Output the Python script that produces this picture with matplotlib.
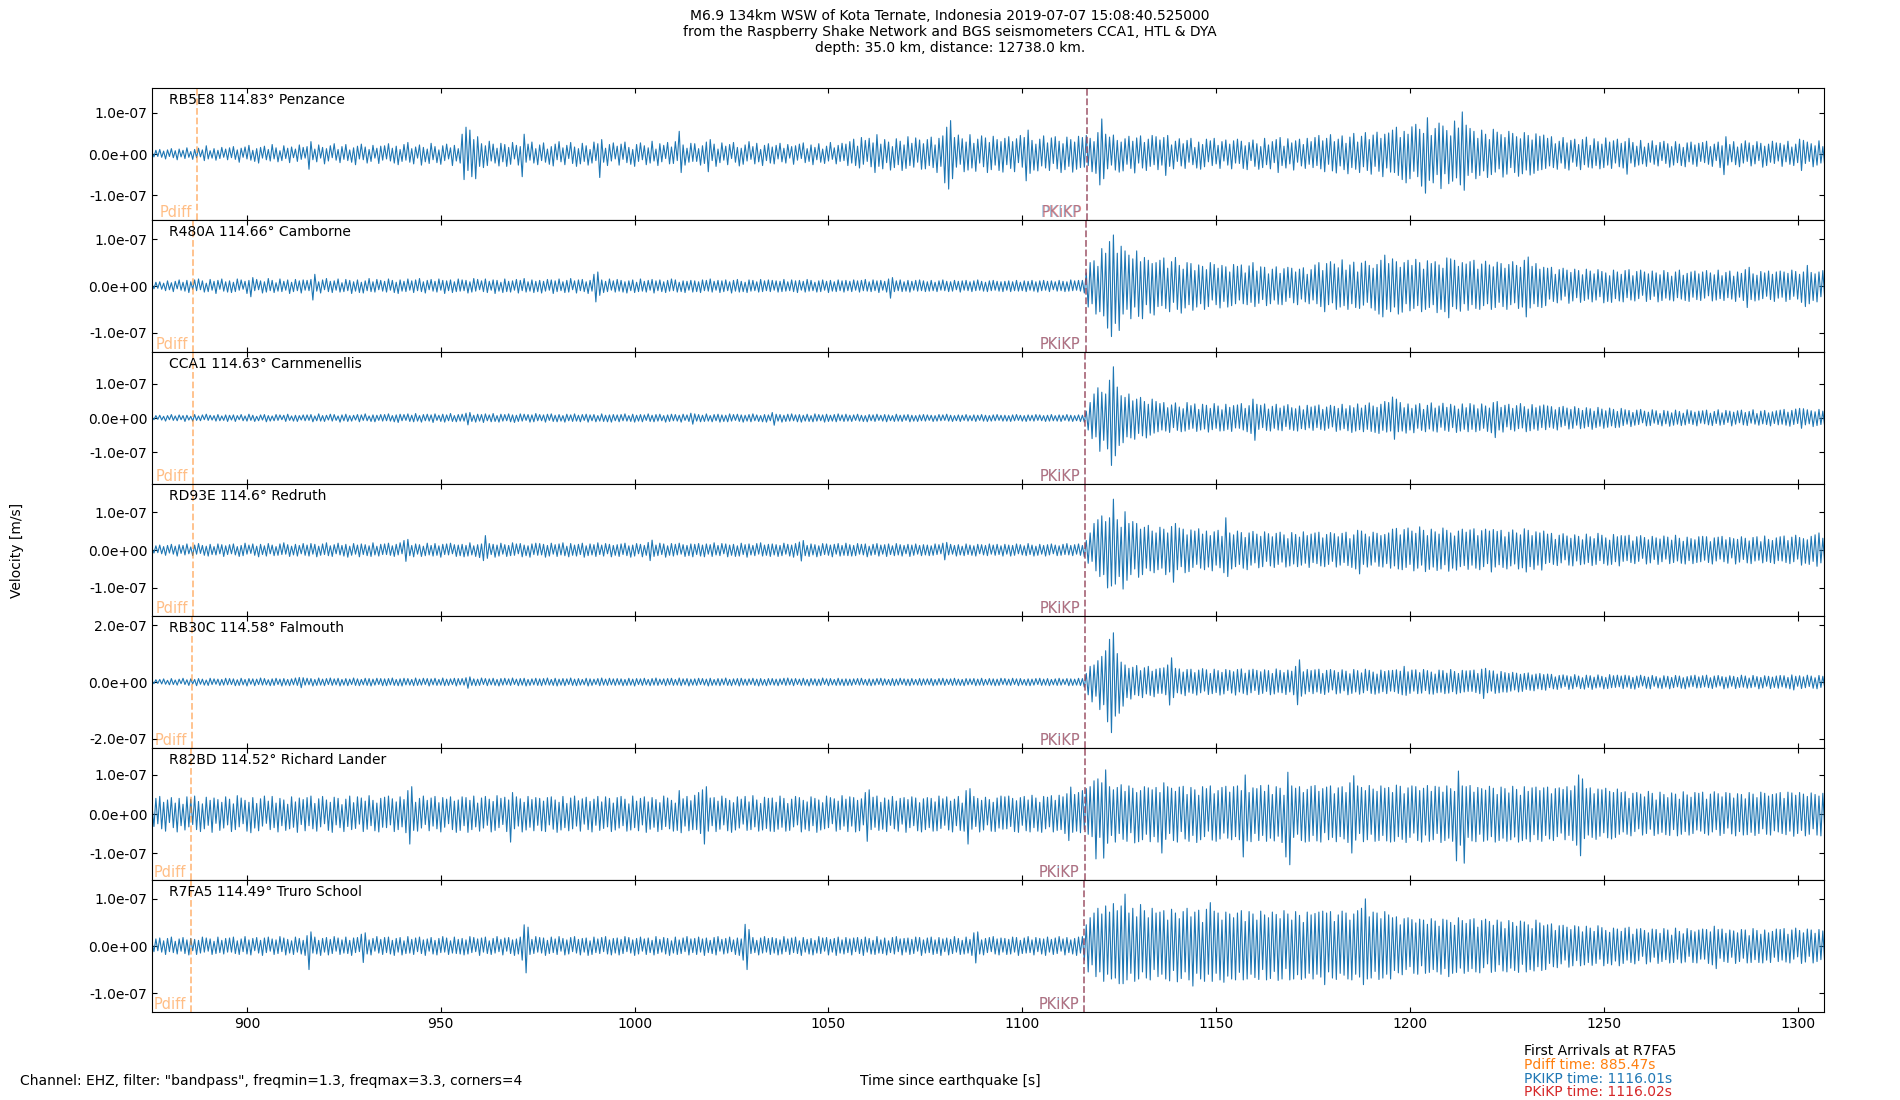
import numpy as np
import matplotlib
matplotlib.use("Agg")
import matplotlib.pyplot as plt
from matplotlib.ticker import FormatStrFormatter

# ---------------- data ----------------
# sample start time (s since origin) and spacing of the extreme-value samples
T0 = 875.5
DT = 0.5
UNIT = 1e-9  # values below are in nm/s (1e-9 m/s), alternating local extremes

X_LIMITS = [875.5, 1306.8]
X_TICKS = [900, 950, 1000, 1050, 1100, 1150, 1200, 1250, 1300]

STATION_LABELS = [
    "RB5E8 114.83° Penzance",
    "R480A 114.66° Camborne",
    "CCA1 114.63° Carnmenellis",
    "RD93E 114.6° Redruth",
    "RB30C 114.58° Falmouth",
    "R82BD 114.52° Richard Lander",
    "R7FA5 114.49° Truro School",
]
PDIFF_TIMES = [887.0, 886.2, 886.1, 886.0, 885.9, 885.6, 885.47]
PKIKP_TIMES = [1116.65, 1116.33, 1116.27, 1116.21, 1116.18, 1116.07, 1116.01]
PKiKP_TIMES = [1116.66, 1116.34, 1116.28, 1116.22, 1116.19, 1116.08, 1116.02]
Y_LIMITS = [1.60e-7, 1.41e-7, 1.92e-7, 1.74e-7, 2.32e-7, 1.69e-7, 1.40e-7]
Y_TICK_STEPS = [1e-7, 1e-7, 1e-7, 1e-7, 2e-7, 1e-7, 1e-7]

PENZANCE = [
    5,-7,9,-6,11,-8,7,-12,10,-6,13,-9,8,-14,12,-7,9,-11,15,-8,6,-13,11,-9,14,-7,10,-16,20,-12,8,-10,13,-15,9,-11,16,-8,12,-14,
    15,-9,18,-13,10,-20,14,-8,17,-12,21,-15,9,-18,13,-22,16,-10,19,-14,11,-17,23,-12,15,-19,8,-16,20,-11,14,-21,17,-9,12,-18,22,-13,16,-10,
    18,-37,30,-14,12,-19,22,-10,16,-24,13,-17,20,-9,25,-15,11,-21,18,-13,23,-16,10,-20,15,-26,19,-12,24,-14,17,-22,11,-18,21,-10,14,-23,19,-15,
    20,-12,25,-17,14,-22,19,-26,11,-18,23,-15,28,-20,13,-24,17,-10,22,-27,16,-19,12,-23,26,-14,18,-21,10,-25,20,-16,24,-12,15,-28,21,-17,13,-22,
    48,-62,65,-40,58,-55,35,-60,42,-30,25,-33,20,-28,31,-17,24,-22,14,-29,26,-19,23,-30,16,-25,28,-12,21,-27,18,-55,48,-20,24,-15,29,-22,13,-26,
    22,-16,27,-20,12,-25,18,-29,24,-14,30,-19,15,-26,21,-11,28,-23,17,-30,13,-24,26,-18,20,-27,11,-22,29,-16,25,-57,35,-20,14,-28,23,-17,27,-12,
    19,-27,24,-13,29,-21,16,-25,11,-30,23,-18,27,-14,20,-26,15,-22,31,-17,12,-28,25,-19,21,-11,28,-24,17,-23,30,-16,55,-45,22,-27,14,-20,26,-18,
    25,-18,13,-27,20,-23,29,-43,35,-16,24,-30,12,-21,27,-15,19,-26,23,-11,28,-20,16,-29,14,-25,22,-17,30,-13,18,-24,26,-19,11,-28,21,-16,25,-22,
    17,-24,21,-12,26,-19,14,-22,23,-10,18,-25,20,-15,24,-11,27,-21,13,-18,22,-26,16,-14,25,-20,12,-23,19,-17,28,-13,15,-24,21,-18,26,-16,24,-28,
    30,-22,36,-28,19,-34,40,-25,33,-18,38,-31,27,-45,47,-30,24,-36,35,-21,29,-39,18,-33,37,-26,31,-40,22,-35,42,-28,26,-32,39,-20,34,-37,25,-36,
    35,-28,41,-33,22,-45,38,-30,44,-70,65,-85,81,-60,40,-32,46,-25,37,-43,29,-39,47,-34,26,-42,36,-22,44,-31,39,-45,28,-38,43,-27,35,-40,30,-44,
    38,-26,42,-35,30,-43,37,-21,45,-32,40,-65,58,-47,33,-39,24,-41,36,-29,44,-34,27,-40,39,-23,42,-36,31,-45,25,-38,41,-30,35,-44,29,-37,43,-33,
    40,-32,45,-28,38,-43,30,-47,52,-75,85,-60,48,-36,41,-27,46,-39,33,-44,29,-41,37,-25,43,-35,31,-46,39,-22,44,-34,28,-40,36,-30,45,-26,42,-38,
    34,-27,40,-52,45,-30,22,-36,31,-18,37,-29,25,-35,33,-20,38,-26,16,-34,29,-37,23,-31,36,-19,32,-28,38,-24,21,-35,30,-17,34,-27,24,-36,32,-22,
    36,-23,31,-35,20,-38,28,-16,34,-30,25,-37,18,-33,38,-26,22,-36,30,-21,35,-45,40,-28,19,-34,37,-24,27,-39,32,-20,36,-29,23,-35,38,-25,30,-33,
    40,-28,45,-36,32,-43,38,-25,47,-41,30,-46,36,-29,44,-38,26,-48,41,-33,50,-37,29,-45,43,-31,52,-40,35,-49,46,-30,53,-42,38,-55,48,-34,51,-44,
    58,-45,65,-52,40,-62,55,-70,48,-60,66,-42,72,-55,60,-78,50,-95,88,-64,45,-70,62,-50,75,-84,68,-48,57,-72,44,-66,80,-58,63,-75,102,-88,70,-52,
    62,-45,55,-60,38,-52,58,-41,48,-57,35,-50,60,-44,53,-36,47,-56,40,-49,55,-33,50,-45,42,-54,37,-48,52,-39,45,-51,34,-47,49,-40,43,-38,46,-35,
    38,-29,42,-33,25,-37,31,-22,40,-35,27,-39,33,-20,36,-30,23,-38,35,-26,41,-32,21,-34,37,-28,30,-36,24,-33,39,-27,29,-35,32,-22,36,-31,26,-34,
    30,-49,38,-22,28,-31,19,-27,33,-24,17,-30,26,-20,32,-25,21,-29,28,-16,31,-23,25,-32,18,-27,30,-21,24,-28,16,-31,27,-19,29,-25,22,-30,26,-18,
    28,-21,31,-25,18,-30,24,-16,29,-33,20,-50,42,-27,23,-19,30,-26,17,-31,25,-22,32,-18,27,-29,21,-24,30,-16,26,-32,19,-28,24,-20,31,-23,27,-17,
    26,-30,22,-19,31,-25,17,-28,24,-21,36,-40,33,-23,29,-18,25,-31,20,-27,32,-22,18,-29,27,-24,21,-30,16,-26,28,-20,31,-25,19,-27,23,-29,26,-21,
]

CAMBORNE = [
    4,-6,8,-5,9,-7,6,-10,11,-8,7,-12,10,-6,13,-9,8,-11,12,-14,9,-7,13,-10,15,-8,11,-13,6,-12,14,-9,10,-16,12,-7,15,-11,9,-13,
    11,-14,8,-12,15,-9,13,-7,10,-16,12,-23,18,-10,14,-8,11,-15,9,-13,16,-10,12,-14,7,-11,15,-12,10,-9,13,-16,8,-12,14,-10,11,-15,13,-9,
    12,-10,14,-30,25,-11,9,-15,13,-8,16,-12,10,-14,11,-9,15,-13,7,-12,14,-10,12,-16,9,-11,13,-14,8,-15,11,-10,16,-12,9,-13,14,-8,12,-11,
    10,-13,15,-9,12,-14,8,-16,13,-11,10,-12,15,-9,11,-14,13,-10,16,-12,9,-15,12,-8,14,-11,10,-13,15,-9,12,-16,11,-10,13,-14,9,-12,15,-11,
    13,-10,12,-15,9,-13,16,-11,14,-8,11,-12,15,-14,10,-9,13,-16,12,-11,8,-14,15,-12,10,-13,11,-9,14,-15,12,-10,16,-13,9,-11,13,-14,10,-12,
    12,-15,10,-11,14,-9,13,-16,11,-12,15,-10,9,-14,12,-13,16,-8,11,-15,13,-10,14,-12,9,-16,12,-11,25,-34,30,-20,13,-14,10,-12,15,-9,11,-13,
    14,-11,12,-13,9,-15,11,-10,13,-14,8,-12,15,-11,10,-13,12,-9,14,-15,11,-10,13,-12,9,-14,12,-11,15,-10,13,-13,8,-12,11,-14,10,-9,12,-13,
    11,-12,9,-14,13,-10,12,-11,15,-13,10,-9,12,-14,11,-12,13,-10,9,-15,12,-11,14,-13,10,-12,8,-14,13,-11,12,-10,9,-13,14,-12,11,-10,13,-12,
    12,-9,11,-13,10,-12,14,-11,9,-10,13,-12,11,-14,12,-9,10,-13,14,-11,12,-10,8,-13,11,-12,13,-9,10,-14,12,-11,9,-12,13,-10,11,-13,12,-10,
    10,-12,13,-9,11,-13,12,-10,14,-11,9,-12,13,-10,11,-14,12,-9,10,-13,15,-26,18,-12,11,-10,13,-12,9,-11,12,-13,10,-9,12,-11,13,-10,11,-12,
    9,-11,12,-10,8,-12,11,-9,13,-10,10,-12,9,-11,12,-8,10,-13,11,-9,12,-10,9,-12,11,-10,13,-9,10,-11,8,-12,11,-10,12,-9,10,-11,9,-12,
    10,-9,11,-12,9,-10,12,-11,8,-10,11,-12,10,-9,12,-11,9,-13,11,-10,12,-9,10,-12,11,-8,9,-11,12,-10,10,-12,9,-11,13,-10,11,-9,12,-11,
    12,-15,28,-45,50,-38,54,-60,42,-55,80,-64,70,-90,95,-108,109,-80,70,-95,85,-60,75,-50,66,-70,58,-45,75,-65,52,-70,61,-40,55,-58,48,-62,50,-44,
    55,-42,60,-48,38,-55,52,-35,61,-50,44,-58,36,-47,50,-40,48,-52,33,-45,45,-38,42,-50,35,-44,50,-30,46,-40,38,-47,44,-33,41,-45,30,-42,46,-38,
    42,-30,45,-38,28,-40,43,-35,50,-44,32,-37,41,-29,40,-42,26,-38,36,-30,41,-39,27,-40,37,-33,40,-25,38,-36,30,-40,36,-28,39,-34,25,-38,35,-30,
    45,-38,50,-44,33,-55,48,-40,52,-36,47,-50,39,-45,56,-42,34,-50,45,-38,51,-46,30,-48,49,-41,53,-35,44,-47,38,-52,46,-60,55,-66,66,-50,48,-55,
    58,-45,52,-60,40,-56,50,-38,55,-53,44,-48,57,-42,50,-55,36,-50,54,-46,48,-40,52,-57,45,-50,38,-55,60,-68,58,-44,55,-49,42,-54,50,-38,47,-52,
    52,-40,55,-48,36,-50,47,-42,53,-38,45,-50,41,-46,51,-35,48,-44,38,-50,46,-40,52,-36,44,-48,40,-45,55,-66,62,-47,42,-38,48,-44,36,-46,40,-42,
    38,-28,40,-33,25,-36,35,-30,38,-22,34,-37,29,-32,36,-25,33,-35,24,-31,36,-28,32,-34,26,-30,35,-23,31,-36,28,-33,22,-35,34,-27,30,-32,25,-34,
    33,-25,35,-30,22,-32,31,-27,34,-20,30,-33,26,-29,32,-22,28,-34,24,-31,33,-26,29,-30,21,-32,30,-25,34,-28,23,-31,27,-33,30,-24,32,-29,26,-31,
    30,-26,33,-21,28,-32,24,-30,34,-27,22,-31,29,-25,32,-28,21,-33,30,-24,27,-31,35,-46,40,-29,26,-32,23,-30,31,-27,28,-22,32,-29,25,-33,30,-26,
    32,-24,30,-33,27,-29,34,-22,31,-28,25,-35,30,-44,44,-38,29,-31,26,-34,30,-23,33,-28,24,-32,31,-27,29,-30,22,-33,28,-26,31,-29,25,-32,30,-27,
]

CARNMENELLIS = [
    3,-5,7,-4,8,-6,5,-9,7,-5,10,-7,6,-8,9,-5,7,-10,8,-6,5,-9,10,-7,6,-8,9,-5,11,-7,8,-6,7,-9,10,-8,6,-7,9,-10,
    8,-6,9,-10,7,-5,10,-8,6,-9,11,-7,8,-10,5,-8,9,-6,10,-11,7,-9,6,-8,10,-7,9,-5,8,-10,11,-7,6,-9,8,-10,7,-6,9,-8,
    9,-7,10,-11,6,-8,12,-9,7,-10,8,-6,11,-9,10,-7,6,-12,9,-8,11,-10,7,-9,8,-6,10,-11,9,-7,12,-8,6,-10,9,-11,8,-7,10,-9,
    10,-8,12,-9,7,-11,9,-13,11,-8,10,-7,12,-10,8,-11,13,-9,7,-12,10,-8,11,-9,9,-13,12,-7,8,-10,11,-12,9,-8,13,-10,7,-11,10,-9,
    11,-9,14,-20,16,-10,8,-12,11,-9,10,-13,12,-8,9,-11,13,-10,7,-12,11,-9,10,-8,12,-11,9,-13,8,-10,12,-9,11,-7,10,-12,9,-11,13,-8,
    10,-8,9,-12,11,-7,12,-10,8,-11,10,-9,7,-12,11,-8,9,-10,12,-9,8,-11,10,-7,11,-12,9,-8,10,-11,7,-9,12,-10,8,-11,9,-12,10,-8,
    9,-11,10,-8,12,-9,7,-10,11,-12,8,-9,10,-11,9,-7,12,-10,8,-11,10,-9,11,-8,7,-12,9,-10,11,-8,10,-9,8,-12,11,-7,9,-10,14,-18,
    12,-9,10,-11,8,-10,12,-9,7,-11,10,-8,11,-12,9,-10,8,-11,12,-9,10,-7,11,-10,9,-12,8,-9,10,-11,12,-8,9,-10,7,-11,10,-12,9,-8,
    16,-21,11,-9,10,-12,8,-10,11,-9,12,-8,9,-11,10,-12,8,-9,11,-10,7,-11,12,-9,10,-8,9,-12,11,-10,8,-9,10,-11,12,-8,9,-10,11,-9,
    8,-10,9,-7,11,-9,8,-10,7,-11,10,-8,9,-10,11,-7,8,-9,10,-11,9,-8,7,-10,11,-9,8,-10,9,-7,10,-11,8,-9,7,-10,9,-8,10,-9,
    9,-7,8,-10,7,-9,10,-8,9,-7,11,-9,8,-10,7,-8,9,-10,8,-7,10,-9,7,-8,9,-10,8,-7,10,-9,8,-10,7,-9,9,-8,10,-7,8,-9,
    8,-9,7,-10,9,-8,10,-7,8,-9,7,-10,9,-8,8,-9,10,-7,9,-8,7,-10,8,-9,10,-8,7,-9,9,-10,8,-7,10,-9,8,-10,7,-8,9,-10,
    8,-12,20,-35,45,-60,70,-55,88,-97,75,-65,70,-90,110,-138,149,-110,90,-80,65,-72,60,-55,70,-58,50,-62,55,-45,60,-52,48,-58,40,-50,55,-44,48,-40,
    42,-35,45,-38,30,-42,38,-28,44,-36,32,-40,27,-38,45,-33,36,-30,41,-39,25,-35,40,-32,37,-41,28,-34,42,-30,35,-38,24,-37,40,-33,31,-39,36,-29,
    38,-30,42,-35,28,-40,36,-45,55,-65,40,-33,37,-28,41,-36,26,-38,34,-30,40,-35,29,-37,35,-25,39,-33,30,-36,27,-38,35,-31,24,-34,37,-29,32,-36,
    35,-28,38,-33,25,-36,32,-30,37,-26,34,-39,28,-35,40,-31,27,-37,36,-42,30,-38,41,-34,29,-40,37,-33,44,-39,35,-42,31,-45,40,-36,48,-41,45,-38,
    61,-62,55,-40,45,-38,30,-44,41,-35,28,-43,38,-30,42,-36,25,-40,37,-32,44,-38,29,-41,35,-27,43,-36,31,-39,40,-28,35,-42,26,-38,41,-33,30,-40,
    42,-33,38,-40,27,-36,41,-30,35,-39,29,-43,45,-57,48,-35,31,-41,37,-26,40,-34,28,-38,36,-31,42,-29,33,-40,26,-37,39,-32,30,-36,35,-28,38,-34,
    35,-27,33,-30,24,-35,31,-26,34,-22,29,-32,25,-30,33,-21,28,-31,22,-29,30,-25,27,-33,20,-28,31,-24,26,-30,21,-27,29,-23,25,-28,19,-27,28,-22,
    24,-18,22,-25,16,-21,23,-19,25,-14,20,-23,17,-22,24,-15,21,-19,13,-23,22,-17,20,-24,15,-21,23,-18,19,-22,14,-20,24,-16,21,-19,17,-23,20,-15,
    21,-17,23,-20,14,-22,19,-16,24,-21,15,-19,22,-13,20,-23,17,-18,21,-14,23,-20,16,-22,19,-15,24,-18,13,-21,20,-17,22,-19,15,-23,18,-16,21,-20,
    23,-18,25,-21,17,-24,22,-19,26,-16,28,-30,27,-20,24,-17,21,-25,18,-22,25,-19,20,-26,16,-23,24,-20,19,-25,22,-17,26,-21,18,-24,23,-20,21,-18,
]

REDRUTH = [
    5,-8,11,-7,13,-10,9,-14,12,-8,15,-11,10,-16,14,-9,12,-13,16,-10,8,-15,13,-11,17,-9,12,-14,10,-16,15,-12,9,-13,16,-10,14,-17,11,-12,
    14,-10,16,-13,9,-17,12,-15,18,-11,13,-9,16,-14,10,-18,15,-12,11,-16,17,-10,13,-15,9,-14,16,-12,19,-11,14,-17,10,-13,15,-16,12,-10,17,-14,
    13,-16,17,-11,15,-18,10,-14,16,-12,19,-15,11,-17,14,-10,18,-13,12,-16,15,-19,10,-14,17,-11,13,-18,16,-12,14,-15,11,-17,19,-13,10,-16,15,-12,
    16,-12,18,-14,11,-17,15,-13,19,-10,25,-30,28,-15,12,-18,16,-11,14,-17,10,-15,18,-13,12,-16,17,-14,11,-19,15,-12,16,-13,18,-10,14,-17,13,-15,
    15,-18,12,-16,19,-13,11,-17,14,-20,16,-28,38,-22,17,-12,15,-19,13,-16,18,-11,14,-17,12,-15,19,-14,16,-10,17,-18,13,-15,11,-19,16,-12,18,-14,
    17,-13,15,-19,12,-16,18,-11,14,-17,16,-13,19,-15,10,-18,17,-14,13,-16,15,-12,18,-19,11,-15,16,-13,14,-17,19,-12,13,-16,17,-10,15,-18,12,-14,
    14,-17,16,-12,18,-15,11,-19,13,-16,17,-10,15,-18,12,-14,20,-28,26,-17,13,-15,18,-12,16,-19,11,-14,17,-16,15,-13,18,-11,14,-17,12,-15,16,-18,
    15,-12,17,-16,13,-18,16,-11,14,-17,19,-13,12,-15,17,-10,16,-18,13,-14,15,-17,11,-16,18,-12,14,-19,16,-13,12,-15,17,-11,19,-16,13,-14,15,-17,
    16,-13,14,-17,12,-15,18,-11,15,-16,13,-19,17,-14,21,-29,25,-15,12,-17,16,-13,14,-18,11,-15,17,-12,16,-14,13,-18,15,-11,17,-16,12,-14,18,-15,
    14,-16,12,-15,17,-11,15,-13,16,-18,10,-14,15,-12,17,-16,13,-11,14,-17,16,-12,11,-15,17,-13,14,-16,12,-10,15,-17,13,-14,16,-11,12,-15,14,-13,
    13,-15,11,-14,16,-12,14,-10,18,-26,20,-13,15,-11,12,-16,14,-13,10,-15,16,-12,13,-14,11,-16,15,-10,14,-13,12,-15,16,-11,13,-14,15,-12,11,-16,
    15,-11,13,-16,12,-14,16,-10,14,-13,11,-15,17,-12,13,-16,10,-14,15,-11,12,-16,14,-13,16,-10,13,-15,11,-14,15,-12,17,-13,12,-15,14,-11,16,-14,
    12,-18,25,-35,45,-30,70,-55,80,-70,90,-65,75,-100,85,-95,134,-90,80,-70,60,-103,101,-80,70,-65,75,-50,70,-72,55,-65,60,-48,65,-55,50,-60,45,-52,
    60,-48,55,-65,45,-58,62,-85,70,-52,58,-44,55,-60,40,-57,53,-46,50,-38,56,-48,42,-52,50,-45,38,-55,48,-40,52,-47,36,-60,85,-70,45,-50,40,-44,
    50,-38,46,-48,33,-52,45,-40,49,-34,42,-47,36,-44,48,-30,43,-42,35,-46,44,-38,47,-32,40,-45,30,-42,46,-37,41,-44,34,-40,48,-35,38,-46,42,-33,
    45,-36,47,-42,32,-44,41,-38,46,-30,43,-45,35,-40,44,-33,47,-41,30,-46,40,-50,52,-63,50,-38,42,-45,35,-40,47,-32,44,-43,38,-45,41,-36,45,-48,
    55,-42,57,-50,40,-52,54,-46,58,-38,50,-55,44,-48,61,-40,52,-57,38,-51,55,-45,48,-54,42,-50,58,-39,52,-56,45,-48,37,-53,50,-44,55,-41,47,-51,
    53,-40,56,-48,38,-52,51,-44,55,-36,50,-58,54,-45,49,-39,52,-46,35,-50,47,-42,53,-37,45,-50,40,-47,56,-58,52,-44,38,-51,48,-40,45,-53,50,-36,
    42,-33,44,-38,28,-41,39,-34,43,-26,37,-40,31,-42,40,-29,36,-39,27,-37,42,-33,35,-41,30,-38,44,-28,39,-36,32,-40,26,-38,41,-31,35,-42,38,-30,
    37,-28,39,-33,24,-36,35,-30,38,-22,33,-37,27,-34,36,-25,32,-38,29,-31,37,-24,34,-36,26,-33,39,-29,31,-35,23,-37,34,-28,30,-36,27,-33,35,-31,
    36,-27,35,-33,22,-37,32,-29,34,-24,36,-31,27,-35,33,-21,30,-37,28,-32,35,-25,31,-34,24,-36,33,-29,35,-27,22,-34,37,-30,28,-33,25,-36,32,-28,
    35,-29,37,-33,25,-36,34,-31,39,-24,33,-40,30,-35,27,-38,36,-30,40,-43,45,-34,31,-37,26,-35,34,-29,38,-32,24,-36,33,-30,28,-35,31,-27,34,-33,
]

FALMOUTH = [
    4,-6,8,-5,9,-7,11,-8,6,-10,12,-9,7,-11,10,-6,13,-9,8,-12,11,-7,9,-13,12,-8,10,-11,7,-12,13,-9,11,-8,10,-12,9,-11,13,-10,
    12,-9,11,-13,8,-12,13,-10,9,-14,12,-8,11,-13,10,-9,14,-11,12,-10,8,-13,11,-12,13,-9,10,-14,12,-11,9,-13,11,-10,14,-12,16,-20,15,-11,
    13,-10,12,-14,9,-12,14,-11,10,-13,12,-9,14,-12,11,-10,13,-14,9,-11,12,-13,10,-9,14,-12,11,-13,9,-10,13,-12,12,-14,10,-11,13,-9,12,-13,
    11,-13,12,-10,14,-12,9,-13,11,-14,13,-10,12,-11,9,-13,14,-12,10,-11,13,-9,12,-14,11,-10,13,-12,9,-11,14,-13,10,-12,11,-9,13,-14,12,-10,
    12,-11,15,-22,18,-12,11,-13,10,-12,14,-9,12,-13,11,-10,13,-12,9,-14,12,-11,13,-10,11,-12,14,-9,10,-13,12,-11,13,-14,9,-12,11,-10,13,-12,
    11,-13,12,-10,14,-11,9,-12,13,-14,10,-11,12,-13,11,-9,14,-12,10,-13,12,-11,9,-10,13,-14,11,-12,10,-9,12,-13,14,-11,10,-12,13,-10,11,-12,
    12,-10,11,-13,9,-12,13,-11,10,-14,12,-9,11,-12,13,-10,9,-13,12,-11,14,-12,10,-9,11,-13,12,-10,13,-12,9,-11,14,-13,11,-10,12,-14,10,-11,
    11,-12,13,-9,12,-11,10,-14,13,-12,9,-11,12,-13,11,-10,14,-12,9,-13,11,-10,12,-14,13,-11,10,-12,11,-9,13,-12,10,-14,12,-11,9,-13,12,-10,
    12,-11,10,-13,11,-9,13,-12,14,-10,11,-13,12,-9,10,-12,13,-11,9,-14,12,-10,11,-13,10,-12,14,-9,11,-13,12,-10,9,-12,13,-11,10,-13,11,-12,
    10,-12,11,-9,12,-11,13,-10,9,-12,11,-13,10,-11,12,-9,13,-12,11,-10,9,-12,12,-13,10,-11,13,-9,11,-12,10,-13,12,-10,9,-11,12,-12,11,-10,
    11,-10,12,-13,9,-11,12,-10,13,-12,10,-9,11,-12,13,-11,10,-12,9,-13,12,-10,11,-9,12,-13,10,-11,13,-12,9,-10,12,-11,11,-13,10,-12,13,-9,
    12,-11,10,-12,13,-9,11,-13,12,-10,9,-12,11,-13,10,-11,12,-9,13,-12,10,-11,12,-13,9,-10,11,-12,13,-11,10,-9,12,-13,11,-12,10,-11,13,-12,
    12,-18,30,-45,55,-70,60,-50,75,-97,90,-80,110,-140,150,-178,173,-120,100,-110,70,-85,60,-55,48,-60,52,-45,58,-48,40,-55,50,-42,55,-47,38,-52,45,-40,
    48,-40,50,-45,60,-81,85,-55,48,-38,46,-42,35,-48,44,-36,45,-40,33,-46,42,-38,47,-32,43,-44,30,-41,45,-37,40,-46,34,-42,44,-30,41,-39,36,-46,
    44,-35,46,-40,31,-45,42,-38,45,-30,41,-44,36,-40,43,-33,40,-45,30,-42,46,-36,41,-38,33,-44,42,-35,38,-45,55,-80,78,-50,36,-42,44,-34,40,-41,
    43,-35,45,-40,30,-44,41,-36,44,-28,40,-42,34,-39,43,-31,38,-45,29,-40,44,-35,40,-43,32,-38,45,-30,41,-40,35,-43,28,-39,42,-34,37,-41,40,-32,
    41,-34,43,-40,38,-45,55,-47,36,-40,42,-32,43,-41,33,-39,44,-30,40,-42,35,-43,28,-38,42,-36,40,-41,31,-39,44,-34,37,-42,30,-38,41,-35,39,-33,
    40,-33,42,-37,30,-41,45,-58,48,-38,40,-32,39,-40,28,-38,37,-35,33,-36,30,-32,34,-28,31,-35,27,-33,30,-26,32,-29,25,-31,28,-24,30,-27,26,-29,
    28,-20,27,-24,18,-26,23,-21,25,-16,22,-26,19,-24,26,-17,21,-23,15,-25,24,-19,22,-26,17,-21,25,-18,20,-24,16,-23,26,-20,22,-19,24,-17,21,-23,
    24,-18,22,-23,16,-25,21,-19,24,-14,20,-22,17,-24,23,-15,19,-21,14,-23,22,-18,20,-24,16,-20,23,-17,21,-22,15,-24,19,-18,22,-16,24,-21,18,-20,
    22,-17,24,-20,15,-23,21,-18,23,-14,19,-24,17,-21,22,-15,20,-23,16,-19,24,-18,21,-22,14,-20,23,-17,19,-24,16,-21,22,-15,20,-23,17,-19,21,-22,
    23,-17,22,-21,16,-24,25,-28,20,-15,22,-23,18,-20,24,-16,21,-22,15,-24,23,-19,20,-21,17,-23,24,-16,19,-22,15,-20,23,-18,21,-24,17,-20,22,-19,
]

RICHARD_LANDER = [
    20,-32,40,-25,45,-38,30,-44,36,-22,42,-35,28,-46,40,-30,25,-41,44,-33,38,-27,46,-40,32,-45,26,-38,43,-29,35,-47,41,-24,37,-42,30,-36,44,-28,
    38,-45,26,-40,47,-33,41,-25,35,-44,30,-48,42,-36,27,-43,39,-31,46,-24,33,-40,45,-35,28,-46,40,-30,36,-42,25,-38,44,-34,31,-47,41,-27,37,-43,
    42,-30,46,-38,27,-44,39,-33,45,-25,36,-42,30,-47,43,-28,40,-35,24,-45,38,-32,46,-40,29,-37,44,-26,41,-45,33,-39,47,-30,35,-43,28,-46,40,-34,
    43,-35,46,-28,39,-45,31,-40,44,-33,37,-48,60,-77,70,-42,30,-44,40,-36,46,-27,35,-43,41,-31,45,-38,29,-46,42,-34,38,-25,44,-40,33,-47,36,-42,
    44,-30,42,-47,35,-40,46,-33,28,-44,41,-36,45,-29,38,-46,32,-42,47,-35,40,-27,43,-45,36,-72,55,-38,44,-31,39,-46,30,-41,45,-34,37,-43,42,-29,
    40,-43,33,-45,42,-28,44,-39,36,-47,30,-41,45,-35,27,-43,41,-38,46,-31,34,-44,39,-26,43,-40,32,-46,38,-29,45,-42,31,-37,44,-33,40,-45,28,-41,
    42,-36,45,-30,38,-44,26,-41,46,-35,33,-43,40,-28,44,-47,31,-39,42,-34,37,-45,29,-40,46,-32,41,-38,35,-44,28,-42,60,-48,39,-31,45,-43,34,-40,
    48,-40,55,-50,62,-77,70,-44,41,-30,42,-45,33,-39,46,-28,40,-43,35,-47,29,-41,44,-36,38,-26,45,-42,31,-40,47,-33,36,-44,27,-41,43,-37,40,-44,
    41,-45,30,-39,46,-34,40,-44,27,-42,38,-33,45,-28,42,-46,35,-39,31,-43,44,-30,40,-47,36,-41,29,-38,46,-35,42,-25,39,-44,33,-40,47,-31,38,-45,
    44,-31,42,-46,35,-43,39,-28,55,-70,62,-40,43,-34,46,-42,30,-39,41,-45,36,-29,45,-38,33,-44,40,-26,42,-47,37,-35,44,-30,41,-43,29,-46,39,-40,
    42,-35,40,-44,31,-43,46,-37,39,-29,44,-41,33,-46,38,-30,45,-42,28,-44,60,-77,65,-39,45,-32,40,-46,35,-41,43,-28,37,-44,30,-45,41,-36,46,-39,
    44,-38,46,-32,40,-45,34,-47,42,-29,45,-43,36,-46,48,-35,41,-44,30,-47,45,-38,43,-33,47,-46,35,-42,48,-40,44,-50,52,-68,69,-47,50,-44,
    55,-48,60,-40,65,-52,70,-58,85,-115,90,-60,80,-113,113,-75,70,-55,62,-72,68,-50,75,-65,58,-70,72,-48,66,-74,55,-71,60,-66,70,-52,67,-71,62,-58,
    68,-72,55,-100,80,-65,70,-50,66,-68,58,-72,69,-45,71,-64,50,-70,68,-55,62,-73,48,-66,70,-58,65,-44,72,-67,52,-70,60,-64,68,-49,71,-62,56,-66,
    70,-58,72,-66,60,-110,100,-69,55,-71,67,-50,65,-68,73,-55,58,-70,74,-62,50,-69,70,-57,66,-73,48,-110,107,-130,72,-60,66,-52,70,-68,55,-72,63,-70,
    71,-55,73,-69,58,-72,65,-48,69,-66,72,-60,52,-71,67,-58,70,-64,55,-73,80,-100,98,-67,72,-50,68,-71,60,-66,73,-52,64,-70,58,-68,72,-55,66,-69,
    68,-72,55,-70,74,-58,71,-65,52,-73,67,-60,72,-49,70,-68,60,-72,66,-54,73,-70,58,-66,71,-50,69,-73,56,-68,72,-62,65,-70,58,-120,110,-80,72,-126,
    70,-60,73,-69,56,-71,68,-52,65,-70,61,-67,71,-58,66,-72,50,-68,69,-62,65,-70,54,-66,71,-59,63,-72,48,-68,70,-64,58,-71,67,-53,69,-66,60,-70,
    67,-55,69,-64,52,-68,65,-58,67,-49,63,-66,70,-55,60,-68,72,-80,100,-107,90,-63,65,-54,67,-60,52,-65,64,-57,62,-48,66,-61,58,-64,55,-60,64,-52,
    55,-46,57,-52,40,-56,53,-45,55,-38,51,-54,44,-50,58,-39,53,-55,36,-51,56,-47,50,-53,42,-55,54,-40,51,-56,38,-52,57,-45,49,-54,43,-50,55,-41,
    53,-44,56,-50,38,-54,51,-46,57,-40,52,-55,44,-50,55,-36,53,-51,41,-56,52,-45,50,-54,39,-53,55,-47,51,-55,42,-50,56,-38,53,-52,46,-54,50,-43,
    52,-46,55,-50,40,-53,56,-44,54,-57,48,-50,55,-42,51,-56,45,-52,54,-38,50,-54,46,-56,53,-41,55,-50,42,-54,57,-47,50,-53,44,-55,51,-45,53,-50,
]

TRURO_SCHOOL = [
    8,-12,15,-10,17,-13,11,-18,16,-12,19,-14,10,-17,15,-11,18,-16,13,-19,16,-10,14,-18,12,-15,19,-13,17,-11,15,-18,10,-16,19,-14,12,-17,16,-13,
    17,-13,19,-16,11,-18,15,-12,20,-17,13,-19,16,-10,18,-15,12,-20,17,-14,19,-11,15,-18,13,-16,20,-12,17,-19,14,-15,11,-18,19,-13,16,-17,12,-20,
    22,-50,30,-15,19,-17,12,-20,16,-13,18,-19,14,-16,20,-11,17,-18,13,-15,19,-16,12,-20,17,-14,18,-12,25,-35,28,-17,13,-19,16,-11,20,-15,14,-18,
    18,-14,19,-17,12,-20,16,-13,18,-19,11,-16,20,-15,14,-18,17,-12,19,-16,13,-20,15,-11,18,-17,12,-19,16,-14,20,-13,17,-18,11,-15,19,-16,14,-17,
    16,-19,13,-17,20,-14,18,-12,15,-20,17,-13,19,-16,11,-18,16,-15,20,-12,14,-19,17,-11,18,-16,13,-20,15,-17,19,-30,45,-57,40,-18,14,-16,20,-13,
    18,-15,17,-20,12,-16,19,-14,15,-18,20,-11,16,-19,13,-17,18,-12,20,-15,14,-19,16,-13,17,-20,11,-18,19,-14,15,-16,18,-12,20,-17,13,-19,16,-15,
    17,-19,14,-16,20,-12,18,-15,13,-20,16,-17,19,-11,15,-18,17,-14,12,-19,20,-16,14,-13,18,-17,16,-20,11,-15,19,-18,13,-16,17,-12,20,-19,15,-14,
    16,-18,19,-13,15,-20,17,-14,12,-16,18,-19,20,-11,14,-17,16,-15,19,-12,13,-18,17,-20,15,-30,46,-50,35,-16,18,-14,12,-19,17,-15,20,-13,16,-18,
    18,-15,16,-19,13,-17,20,-12,15,-18,17,-14,19,-16,11,-20,18,-13,14,-17,16,-19,12,-15,20,-16,17,-11,18,-19,14,-13,16,-20,19,-15,13,-17,18,-14,
    15,-19,17,-12,18,-16,14,-20,19,-13,16,-17,12,-18,20,-15,13,-16,17,-19,11,-14,18,-17,20,-12,15,-19,16,-13,17,-18,14,-16,19,-11,18,-20,13,-15,
    17,-14,19,-18,13,-16,18,-20,15,-12,17,-19,14,-16,20,-13,16,-18,12,-17,19,-15,14,-20,28,-36,30,-17,13,-19,16,-14,18,-12,20,-17,15,-19,17,-13,
    16,-18,14,-17,19,-13,18,-20,12,-16,17,-15,20,-14,13,-19,18,-12,16,-17,15,-20,19,-13,14,-18,17,-16,20,-11,15,-19,18,-14,13,-17,16,-20,19,-15,
    20,-30,45,-55,60,-40,70,-65,80,-55,68,-75,85,-60,72,-70,90,-68,75,-80,85,-80,110,-72,70,-58,80,-75,62,-70,88,-55,75,-68,60,-72,80,-50,70,-65,
    72,-60,75,-70,55,-74,78,-52,70,-76,58,-69,73,-55,80,-72,62,-85,72,-58,76,-70,50,-75,78,-60,92,-75,74,-58,70,-72,55,-77,72,-64,68,-70,60,-72,
    70,-56,75,-72,52,-70,73,-60,68,-67,55,-71,74,-50,66,-72,60,-69,72,-54,67,-73,58,-70,75,-48,68,-72,55,-70,73,-61,65,-71,50,-68,72,-58,66,-70,
    69,-60,72,-66,74,-82,70,-55,73,-68,52,-71,66,-58,74,-62,70,-70,55,-72,68,-60,75,-66,80,-82,100,-70,62,-68,72,-54,70,-71,58,-68,73,-60,66,-70,
    60,-52,62,-57,45,-61,58,-50,60,-44,56,-58,49,-60,57,-42,55,-58,46,-56,58,-50,53,-55,42,-60,57,-48,55,-65,50,-58,44,-56,60,-47,54,-58,48,-54,
    56,-48,58,-55,40,-57,54,-46,57,-38,52,-56,44,-54,55,-40,51,-53,37,-55,54,-47,50,-52,42,-56,53,-39,51,-55,45,-50,37,-53,55,-44,49,-52,43,-50,
    45,-37,47,-44,33,-46,43,-38,44,-30,40,-45,35,-42,43,-31,41,-42,30,-40,42,-35,38,-41,31,-37,43,-28,39,-42,33,-37,29,-40,38,-32,36,-42,31,-37,
    38,-30,40,-35,25,-38,36,-31,37,-22,33,-38,28,-34,36,-24,35,-37,27,-33,37,-29,34,-36,23,-35,38,-28,31,-36,26,-34,37,-22,33,-35,30,-36,34,-28,
    36,-28,35,-37,30,-40,42,-48,35,-26,36,-33,27,-35,34,-24,32,-37,28,-33,35,-26,34,-36,22,-35,37,-29,33,-35,25,-36,34,-30,28,-35,31,-24,36,-33,
    35,-30,37,-34,25,-36,34,-28,38,-23,33,-37,28,-34,36,-22,34,-36,27,-33,35,-29,32,-38,24,-35,36,-27,33,-34,25,-36,34,-29,31,-35,28,-33,34,-30,
]

TRACES = [PENZANCE, CAMBORNE, CARNMENELLIS, REDRUTH, FALMOUTH,
          RICHARD_LANDER, TRURO_SCHOOL]

TITLE = ("M6.9 134km WSW of Kota Ternate, Indonesia 2019-07-07 15:08:40.525000\n"
         "from the Raspberry Shake Network and BGS seismometers CCA1, HTL & DYA\n"
         "depth: 35.0 km, distance: 12738.0 km.")
FILTER_TEXT = 'Channel: EHZ, filter: "bandpass", freqmin=1.3, freqmax=3.3, corners=4'
ARRIVAL_LINES = [
    ("First Arrivals at R7FA5", "black"),
    ("Pdiff time: 885.47s", "C1"),
    ("PKIKP time: 1116.01s", "C0"),
    ("PKiKP time: 1116.02s", "C3"),
]

# ---------------- figure ----------------
fig, axes = plt.subplots(len(TRACES), 1, sharex=True, figsize=(19, 11), dpi=100)
fig.subplots_adjust(left=0.08, right=0.96, top=0.92, bottom=0.08, hspace=0)

for i, ax in enumerate(axes):
    vals = np.asarray(TRACES[i], dtype=float) * UNIT
    t = T0 + np.arange(len(vals)) * DT
    ax.plot(t, vals, color="C0", lw=0.8)

    ax.axvline(PDIFF_TIMES[i], color="C1", alpha=0.5, ls="--", lw=1.3)
    ax.axvline(PKIKP_TIMES[i], color="C0", alpha=0.5, ls="--", lw=1.3)
    ax.axvline(PKiKP_TIMES[i], color="C3", alpha=0.5, ls="--", lw=1.3)

    yl = Y_LIMITS[i]
    ax.set_ylim(-yl, yl)
    s = Y_TICK_STEPS[i]
    ax.set_yticks([-s, 0.0, s])
    ax.yaxis.set_major_formatter(FormatStrFormatter("%.1e"))

    ax.text(PDIFF_TIMES[i] - 1.3, -yl, "Pdiff", color="C1", alpha=0.5,
            ha="right", va="bottom", fontsize=10.5)
    ax.text(PKIKP_TIMES[i] - 1.3, -yl, "PKIKP", color="C0", alpha=0.5,
            ha="right", va="bottom", fontsize=10.5)
    ax.text(PKiKP_TIMES[i] - 1.3, -yl, "PKiKP", color="C3", alpha=0.5,
            ha="right", va="bottom", fontsize=10.5)

    ax.text(0.01, 0.965, STATION_LABELS[i], transform=ax.transAxes,
            ha="left", va="top", fontsize=10)

    ax.tick_params(direction="in", top=True, right=True, labelsize=10)
    ax.set_xlim(*X_LIMITS)
    ax.set_xticks(X_TICKS)

fig.text(0.5, 0.992, TITLE, ha="center", va="top", fontsize=10)
fig.text(0.009, 0.5, "Velocity [m/s]", rotation=90, ha="center", va="center",
         fontsize=10)
fig.text(0.5, 0.0175, "Time since earthquake [s]", ha="center", va="center",
         fontsize=10)
fig.text(0.0103, 0.0175, FILTER_TEXT, ha="left", va="center", fontsize=10)

y_positions = [0.0443, 0.0321, 0.0191, 0.0070]
for (txt, col), yp in zip(ARRIVAL_LINES, y_positions):
    fig.text(0.802, yp, txt, color=col, ha="left", va="center", fontsize=10)

fig.savefig("out.png", dpi=100)
